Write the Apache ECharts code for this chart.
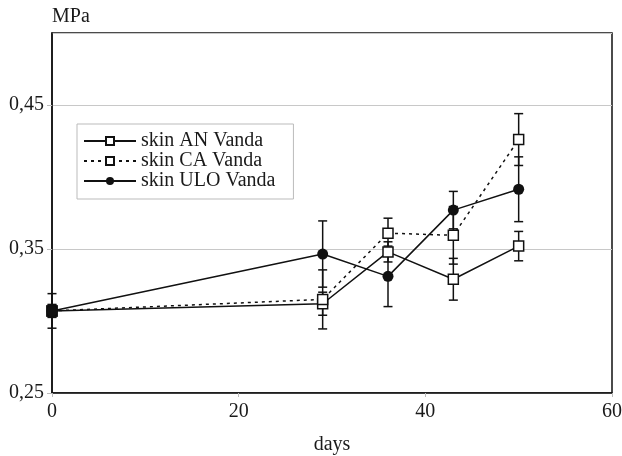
<!DOCTYPE html>
<html>
<head>
<meta charset="utf-8">
<script src="https://cdn.jsdelivr.net/npm/echarts@6/dist/echarts.min.js"></script>
<style>html,body{margin:0;padding:0;background:#fff}#c{width:622px;height:456px}</style>
</head>
<body>
<div id="c"></div>
<script>
var days = [0, 29, 36, 43, 50];
var anVals = [0.307, 0.312, 0.348, 0.329, 0.352];
var anErr = [0.004, 0.008, 0.007, 0.0145, 0.0102];
var caVals = [0.307, 0.315, 0.361, 0.3595, 0.426];
var caErr = [0.0045, 0.0205, 0.0104, 0.02, 0.018];
var uloVals = [0.307, 0.3465, 0.331, 0.377, 0.3915];
var uloErr = [0.012, 0.023, 0.021, 0.013, 0.0225];
var seriesNames = ['skin AN Vanda', 'skin CA Vanda', 'skin ULO Vanda'];
var xTicks = [0, 20, 40, 60];
var yTicks = [0.25, 0.35, 0.45];

var FONT = "'Liberation Serif', 'DejaVu Serif', serif";
var TXT = '#1a1a1a';

function pts(vals, blackFirst) {
  return days.map(function (d, i) {
    var item = { value: [d, vals[i]] };
    if (blackFirst && i === 0) item.itemStyle = { color: '#000' };
    return item;
  });
}
function errData(vals, errs) {
  return days.map(function (d, i) { return [d, vals[i] - errs[i], vals[i] + errs[i]]; });
}
function renderErr(params, api) {
  var x = api.value(0);
  var lo = api.coord([x, api.value(1)]);
  var hi = api.coord([x, api.value(2)]);
  var w = 4.5;
  var st = { stroke: '#111', lineWidth: 1.5 };
  return {
    type: 'group',
    children: [
      { type: 'line', shape: { x1: lo[0], y1: lo[1], x2: hi[0], y2: hi[1] }, style: st },
      { type: 'line', shape: { x1: lo[0] - w, y1: lo[1], x2: lo[0] + w, y2: lo[1] }, style: st },
      { type: 'line', shape: { x1: hi[0] - w, y1: hi[1], x2: hi[0] + w, y2: hi[1] }, style: st }
    ]
  };
}
function errSeries(vals, errs) {
  return {
    type: 'custom', renderItem: renderErr, data: errData(vals, errs), z: 1,
    encode: { x: 0, y: [1, 2] }, silent: true
  };
}
var sqStyle = { color: '#fff', borderColor: '#111', borderWidth: 1.5 };

var chart = echarts.init(document.getElementById('c'), null, { renderer: 'canvas' });
chart.setOption({
  animation: false,
  backgroundColor: '#fff',
  textStyle: { fontFamily: FONT },
  grid: { left: 52, right: 10, top: 33, bottom: 63, show: true, borderColor: '#111', borderWidth: 1.5, backgroundColor: 'transparent', outerBoundsMode: 'none', containLabel: false },
  xAxis: {
    type: 'value', min: xTicks[0], max: xTicks[xTicks.length - 1], interval: 20,
    name: 'days', nameLocation: 'middle', nameGap: 42,
    nameTextStyle: { fontFamily: FONT, fontSize: 20, color: TXT },
    axisLine: { lineStyle: { color: '#111', width: 1.5 } },
    axisTick: { show: true, length: 4, lineStyle: { color: '#bbb' } },
    axisLabel: { fontFamily: FONT, fontSize: 20, color: TXT, margin: 9 },
    splitLine: { show: false }
  },
  yAxis: {
    type: 'value', min: 0.25, max: 0.5, interval: 0.1,
    name: 'MPa', nameLocation: 'end', nameGap: 6,
    nameTextStyle: { fontFamily: FONT, fontSize: 20, color: TXT, align: 'left', padding: [0, 0, 0, 0] },
    axisLine: { lineStyle: { color: '#111', width: 1.5 } },
    axisTick: { show: true, length: 5, lineStyle: { color: '#bbb' } },
    axisLabel: {
      fontFamily: FONT, fontSize: 20, color: TXT, margin: 8, showMaxLabel: false,
      formatter: function (v) {
        for (var i = 0; i < yTicks.length; i++) if (Math.abs(v - yTicks[i]) < 1e-6) return yTicks[i].toFixed(2).replace('.', ',');
        return '';
      }
    },
    splitLine: { show: true, lineStyle: { color: '#c8c8c8', width: 1 } }
  },
  legend: {
    data: seriesNames,
    orient: 'vertical', left: 77, top: 124,
    backgroundColor: '#fff', borderColor: '#bbb', borderWidth: 1,
    padding: [7, 18, 8, 6],
    itemWidth: 52, itemHeight: 10, itemGap: 0, itemTextGap: 1,
    textStyle: { fontFamily: FONT, fontSize: 20, color: TXT, lineHeight: 20 }
  },
  series: [
    errSeries(anVals, anErr),
    errSeries(caVals, caErr),
    errSeries(uloVals, uloErr),
    {
      name: seriesNames[0], type: 'line', data: pts(anVals, true), z: 3,
      symbol: 'rect', symbolSize: 10, itemStyle: sqStyle,
      lineStyle: { color: '#111', width: 1.5 }
    },
    {
      name: seriesNames[1], type: 'line', data: pts(caVals, true), z: 3,
      symbol: 'rect', symbolSize: 10, itemStyle: sqStyle,
      lineStyle: { color: '#111', width: 1.5, type: [3, 4] }
    },
    {
      name: seriesNames[2], type: 'line', data: pts(uloVals, false), z: 4,
      symbol: 'circle', symbolSize: 11, itemStyle: { color: '#111' },
      lineStyle: { color: '#111', width: 1.5 }
    }
  ]
});
</script>
</body>
</html>
